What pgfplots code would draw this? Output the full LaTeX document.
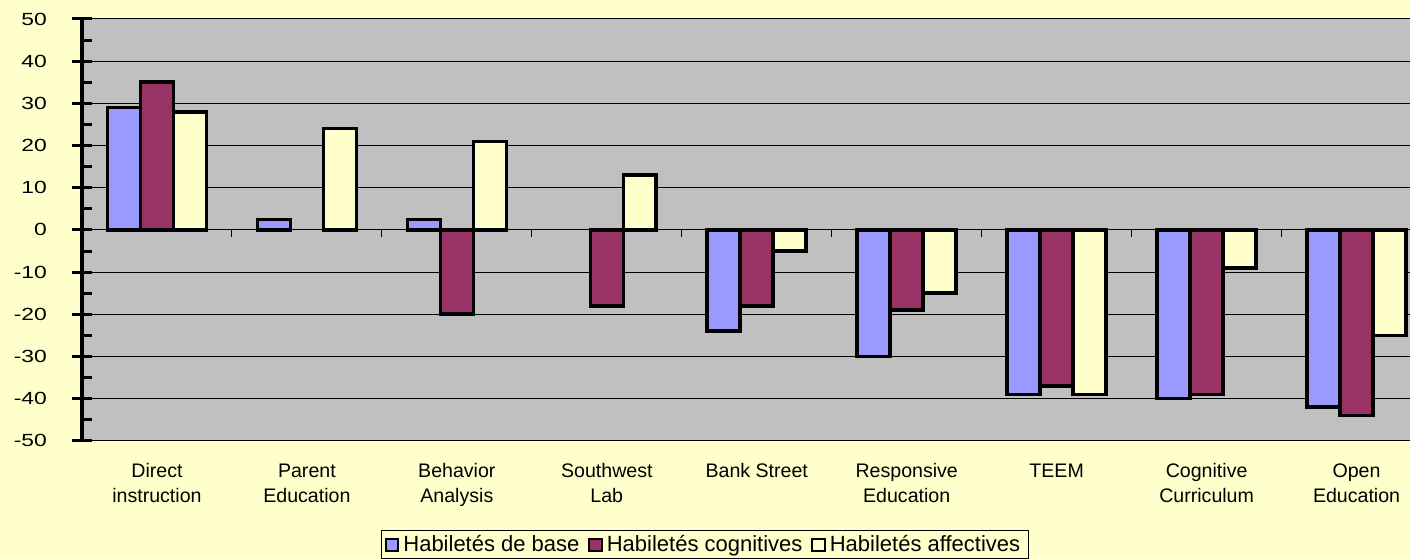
\documentclass[border=0pt]{standalone}
\usepackage{fontspec}
\setmainfont{Liberation Sans}
\usepackage{graphicx}
\usepackage{pgfplots}
\pgfplotsset{compat=1.18}
\definecolor{bgy}{HTML}{FFFFCC}
\definecolor{plotg}{HTML}{C0C0C0}
\definecolor{cb}{HTML}{9999FF}
\definecolor{cr}{HTML}{993366}
\definecolor{cy}{HTML}{FFFFCC}
\begin{document}
\begin{tikzpicture}
\fill[bgy] (-41pt,-59pt) rectangle (664pt,220.5pt);
\begin{axis}[
  at={(0,0)}, anchor=south west,
  scale only axis, width=664pt, height=211pt,
  xmin=-0.5, xmax=8.353, ymin=-50, ymax=50,
  ybar=0pt, bar width=16.5pt,
  axis background/.style={fill=plotg},
  axis x line*=bottom, axis y line*=left,
  x axis line style={black, line width=0.5pt},
  y axis line style={black, line width=2pt},
  xtick={0,...,8},
  xticklabels={{Direct\\instruction},{Parent\\Education},{Behavior\\Analysis},{Southwest\\Lab},{Bank Street},{Responsive\\Education},{TEEM},{Cognitive\\Curriculum},{Open\\Education}},
  x tick style={draw=none},
  typeset ticklabels with strut,
  xticklabel style={align=center, font=\fontsize{9.8}{12.5}\selectfont, anchor=north, yshift=-1pt},
  ytick={-50,-40,...,50}, minor y tick num=1,
  y tick style={black, line width=1.5pt},
  tick align=center, major tick length=10pt, minor tick length=5pt,
  minor y tick style={xshift=2.5pt},
  yticklabel={\scalebox{1.3}[1]{\pgfmathprintnumber{\tick}}},
  yticklabel style={font=\fontsize{8.8}{10}\selectfont, anchor=east, xshift=-9pt},
  /pgf/number format/assume math mode=true,
  ymajorgrids, grid style={black, line width=0.5pt},
  every axis plot/.append style={draw=black, line width=1.8pt},
  legend style={at={(0.469,-0.2464)}, anchor=center, legend columns=-1, draw=black, line width=0.5pt, fill=bgy,
    font=\fontsize{11}{12}\selectfont, inner ysep=0.3pt, inner xsep=2pt,
    /tikz/every even column/.append style={column sep=2.5pt}},
  legend image code/.code={\draw[#1, line width=1pt] (0pt,-3.2pt) rectangle (6.2pt,3pt);},
]
\addplot[fill=cb] coordinates {(0,29) (1,2.5) (2,2.5) (4,-24) (5,-30) (6,-39) (7,-40) (8,-42)};
\addplot[fill=cr] coordinates {(0,35) (2,-20) (3,-18) (4,-18) (5,-19) (6,-37) (7,-39) (8,-44)};
\addplot[fill=cy] coordinates {(0,28) (1,24) (2,21) (3,13) (4,-5) (5,-15) (6,-39) (7,-9) (8,-25)};
\legend{Habiletés de base, Habiletés cognitives, Habiletés affectives}
\draw[black, line width=0.5pt] (axis cs:-0.5,0) -- (axis cs:8.353,0);
\pgfplotsinvokeforeach{0.5,1.5,2.5,3.5,4.5,5.5,6.5,7.5}{\draw[black, line width=0.5pt] (axis cs:#1,0) -- ([yshift=-3.5pt]axis cs:#1,0);}
\end{axis}
\end{tikzpicture}
\end{document}
